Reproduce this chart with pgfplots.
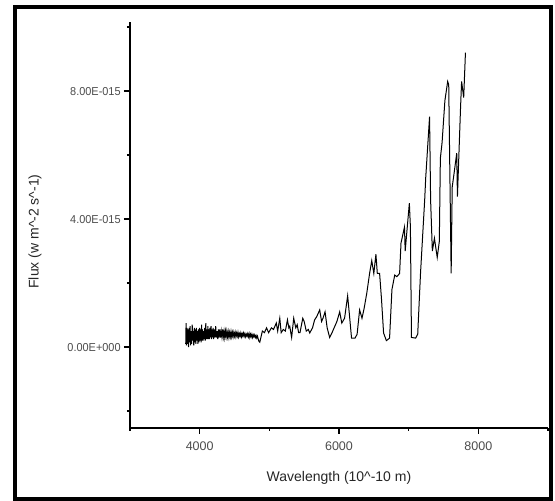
\documentclass[border=0pt]{standalone}
\usepackage{fontspec}
\setmainfont{Liberation Sans}
\usepackage{pgfplots}
\pgfplotsset{compat=1.18}
\begin{document}
\begin{tikzpicture}[x=1pt,y=1pt]
\useasboundingbox (0,0) rectangle (555,501);
\draw[line width=4pt] (15,2) rectangle (551,494);
\begin{axis}[at={(130pt,73pt)}, anchor=south west, scale only axis,
 width=418pt, height=406pt,
 xmin=3000, xmax=9000, ymin=-2.53, ymax=10.16,
 axis x line*=bottom, axis y line*=left,
 axis line style={line width=1.6pt, -},
 xtick={4000,6000,8000}, xticklabels={4000,6000,8000},
 minor xtick={3000,5000,7000,9000},
 ytick={0,4,8}, yticklabels={0.00E+000,4.00E-015,8.00E-015},
 minor ytick={-2,2,6,10},
 tick align=outside, major tick length=6pt, minor tick length=3pt,
 every tick/.style={black, line width=1.4pt},
 xticklabel style={font=\fontsize{12.5}{13}\selectfont, text=black!70, yshift=-4pt},
 yticklabel style={font=\fontsize{11.5}{12}\selectfont, text=black!70, xscale=0.95},
 xlabel={Wavelength (10\^{}-10 m)},
 ylabel={Flux (w m\^{}-2 s\^{}-1)},
 label style={font=\fontsize{14}{15}\selectfont, text=black!85},
 xlabel style={at={(axis description cs:0.5,-0.123)}, anchor=center},
 ylabel style={at={(axis description cs:-0.227,0.484)}, anchor=center},
]
\addplot[black, line width=1pt] table {
x y
3800 0.1
3805 0.75
3810 0.05
3818 0.6
3825 0.1
3832 0.55
3840 0.0
3848 0.6
3855 0.15
3862 0.65
3870 0.05
3878 0.5
3885 0.1
3893 0.7
3900 0.2
3908 0.5
3915 0.05
3923 0.6
3930 0.15
3938 0.55
3945 0.1
3953 0.6
3960 0.2
3968 0.5
3975 0.1
3983 0.55
3990 0.15
3998 0.6
4005 0.2
4013 0.55
4020 0.15
4028 0.7
4035 0.2
4043 0.55
4050 0.2
4058 0.5
4065 0.25
4073 0.6
4080 0.2
4088 0.75
4095 0.25
4103 0.55
4110 0.25
4118 0.65
4125 0.25
4133 0.55
4140 0.25
4148 0.6
4155 0.3
4163 0.65
4170 0.25
4178 0.55
4185 0.3
4193 0.6
4200 0.25
4210 0.55
4220 0.3
4230 0.65
4240 0.3
4250 0.5
4260 0.25
4270 0.55
4280 0.3
4290 0.55
4300 0.3
4310 0.5
4320 0.32
4330 0.55
4340 0.32
4350 0.5
4360 0.3
4370 0.5
4380 0.32
4390 0.5
4400 0.32
4410 0.48
4420 0.3
4430 0.46
4440 0.32
4450 0.48
4460 0.32
4470 0.46
4480 0.32
4490 0.46
4500 0.34
4510 0.46
4520 0.32
4530 0.44
4540 0.34
4550 0.46
4560 0.32
4570 0.42
4580 0.34
4590 0.44
4600 0.32
4610 0.42
4620 0.34
4630 0.44
4640 0.34
4650 0.42
4660 0.32
4670 0.4
4680 0.34
4690 0.42
4700 0.32
4710 0.42
4720 0.3
4730 0.4
4740 0.32
4750 0.4
4760 0.3
4770 0.38
4780 0.32
4790 0.38
4800 0.3
4810 0.36
4820 0.28
4830 0.34
4840 0.25
4850 0.18
4863 0.15
4900 0.5
4930 0.45
4960 0.6
4990 0.45
5030 0.6
5060 0.55
5100 0.75
5120 0.5
5150 0.9
5170 0.45
5200 0.55
5230 0.5
5260 0.85
5280 0.6
5293 0.65
5320 0.3
5350 0.9
5380 0.6
5400 0.7
5420 0.45
5440 0.45
5480 0.9
5500 0.8
5530 0.5
5560 0.55
5580 0.44
5620 0.6
5650 0.85
5680 0.95
5723 1.16
5750 0.8
5770 0.9
5800 1.1
5830 0.6
5866 0.3
5900 0.45
5930 0.6
5970 0.8
6010 1.1
6040 0.75
6080 0.9
6124 1.6
6150 1.0
6180 0.28
6230 0.28
6260 0.4
6296 1.16
6330 0.9
6360 1.2
6400 1.7
6439 2.3
6470 2.7
6500 2.3
6530 2.9
6550 2.3
6583 2.3
6610 1.5
6640 0.44
6680 0.2
6726 0.28
6760 1.8
6800 2.25
6830 2.2
6870 2.3
6890 3.25
6940 3.75
6950 3.0
7010 4.5
7025 3.75
7040 0.3
7100 0.28
7130 0.4
7170 2.3
7230 4.6
7245 5.3
7300 7.2
7315 4.6
7340 3.0
7370 3.4
7410 2.8
7440 3.3
7455 5.9
7480 6.4
7520 7.7
7560 8.3
7575 8.2
7610 2.3
7625 5.0
7650 5.4
7690 6.06
7700 4.7
7745 7.5
7760 8.3
7790 7.8
7815 9.2
};
\end{axis}
\end{tikzpicture}
\end{document}
